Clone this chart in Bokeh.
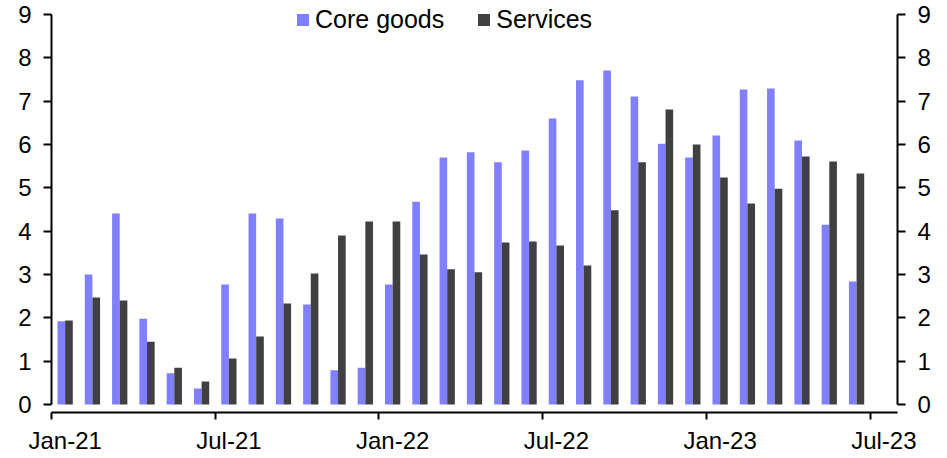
from bokeh.plotting import figure
from bokeh.models import (ColumnDataSource, Range1d, LinearAxis, FixedTicker,
                          Legend, LegendItem)
from bokeh.transform import dodge
from bokeh.embed import file_html
from bokeh.resources import INLINE

# ---- data ----
months = ["Jan-21", "Feb-21", "Mar-21", "Apr-21", "May-21", "Jun-21",
          "Jul-21", "Aug-21", "Sep-21", "Oct-21", "Nov-21", "Dec-21",
          "Jan-22", "Feb-22", "Mar-22", "Apr-22", "May-22", "Jun-22",
          "Jul-22", "Aug-22", "Sep-22", "Oct-22", "Nov-22", "Dec-22",
          "Jan-23", "Feb-23", "Mar-23", "Apr-23", "May-23", "Jun-23"]
core_goods = [1.92, 3.00, 4.41, 1.98, 0.72, 0.37,
              2.77, 4.41, 4.29, 2.31, 0.79, 0.85,
              2.77, 4.68, 5.70, 5.82, 5.59, 5.86,
              6.60, 7.48, 7.71, 7.11, 6.02, 5.70,
              6.21, 7.27, 7.29, 6.09, 4.15, 2.84]
services = [1.94, 2.47, 2.40, 1.45, 0.85, 0.53,
            1.06, 1.57, 2.33, 3.02, 3.90, 4.22,
            4.22, 3.46, 3.12, 3.05, 3.74, 3.76,
            3.67, 3.21, 4.48, 5.59, 6.81, 6.00,
            5.24, 4.64, 4.98, 5.72, 5.61, 5.33]
x_tick_labels = ["Jan-21", "Jul-21", "Jan-22", "Jul-22", "Jan-23", "Jul-23"]
y_ticks = [0, 1, 2, 3, 4, 5, 6, 7, 8, 9]

FONT = "Liberation Sans"
FS = "24px"
LEG_FS = "25px"
CORE_COLOR = "#8080FF"
SERV_COLOR = "#404040"

n_months = len(months)
x_mid = [i + 0.5 for i in range(n_months)]
src = ColumnDataSource(dict(x=x_mid, month=months, core=core_goods, serv=services))

# frame spans a little above 9 so the legend (which sits partly above the
# top tick) is not clipped; the y axes are bounded to 0..9
p = figure(frame_width=846, frame_height=412,
           x_range=Range1d(0, n_months + 1), y_range=Range1d(-0.185, 9.323),
           x_axis_location=None, y_axis_location=None,
           output_backend="svg", toolbar_location=None,
           min_border_left=51, min_border_right=46,
           min_border_top=0, min_border_bottom=42,
           background_fill_color="white", border_fill_color="white")
p.outline_line_color = None
p.xgrid.visible = False
p.ygrid.visible = False

r1 = p.vbar(x=dodge("x", -0.14, range=p.x_range), top="core", bottom=0,
            width=0.28, source=src, fill_color=CORE_COLOR, line_color=None)
r2 = p.vbar(x=dodge("x", 0.14, range=p.x_range), top="serv", bottom=0,
            width=0.28, source=src, fill_color=SERV_COLOR, line_color=None)


def y_axis():
    ax = LinearAxis(ticker=FixedTicker(ticks=y_ticks, minor_ticks=[]), bounds=(0, 9))
    ax.axis_line_width = 2
    ax.axis_line_color = "black"
    ax.major_tick_line_width = 2
    ax.major_tick_line_color = "black"
    ax.major_tick_out = 8
    ax.major_tick_in = 0
    ax.minor_tick_out = 0
    ax.minor_tick_in = 0
    ax.major_label_text_font = FONT
    ax.major_label_text_font_size = FS
    ax.major_label_text_color = "black"
    ax.major_label_standoff = 12
    return ax


p.add_layout(y_axis(), "left")
p.add_layout(y_axis(), "right")

# bottom axis: line and tick marks at month boundaries
tick_pos = [6 * k for k in range(len(x_tick_labels))]
xa = LinearAxis(ticker=FixedTicker(ticks=tick_pos, minor_ticks=[]))
xa.major_label_overrides = {t: "" for t in tick_pos}
xa.axis_line_width = 2
xa.axis_line_color = "black"
xa.major_tick_line_width = 2
xa.major_tick_line_color = "black"
xa.major_tick_out = 7
xa.major_tick_in = 0
xa.minor_tick_out = 0
xa.minor_tick_in = 0
xa.major_label_text_font_size = "1px"
xa.major_label_standoff = 0
p.add_layout(xa, "below")

# bottom labels, centred on the month interval
label_pos = [t + 0.5 for t in tick_pos]
xl = LinearAxis(ticker=FixedTicker(ticks=label_pos, minor_ticks=[]))
xl.major_label_overrides = {lp: lab for lp, lab in zip(label_pos, x_tick_labels)}
xl.axis_line_color = None
xl.major_tick_line_color = None
xl.minor_tick_line_color = None
xl.major_tick_out = 0
xl.major_tick_in = 0
xl.major_label_text_font = FONT
xl.major_label_text_font_size = FS
xl.major_label_text_color = "black"
xl.major_label_standoff = 7
p.add_layout(xl, "below")

legend = Legend(items=[LegendItem(label="Core goods", renderers=[r1]),
                       LegendItem(label="Services", renderers=[r2])],
                orientation="horizontal", location=(244, 378),
                border_line_color=None, background_fill_alpha=0,
                glyph_width=15, glyph_height=15, label_standoff=5,
                spacing=32, padding=0, margin=0,
                label_text_font=FONT, label_text_font_size=LEG_FS,
                label_text_color="black")
p.add_layout(legend, "center")

open("out.html", "w").write(file_html(p, INLINE))
